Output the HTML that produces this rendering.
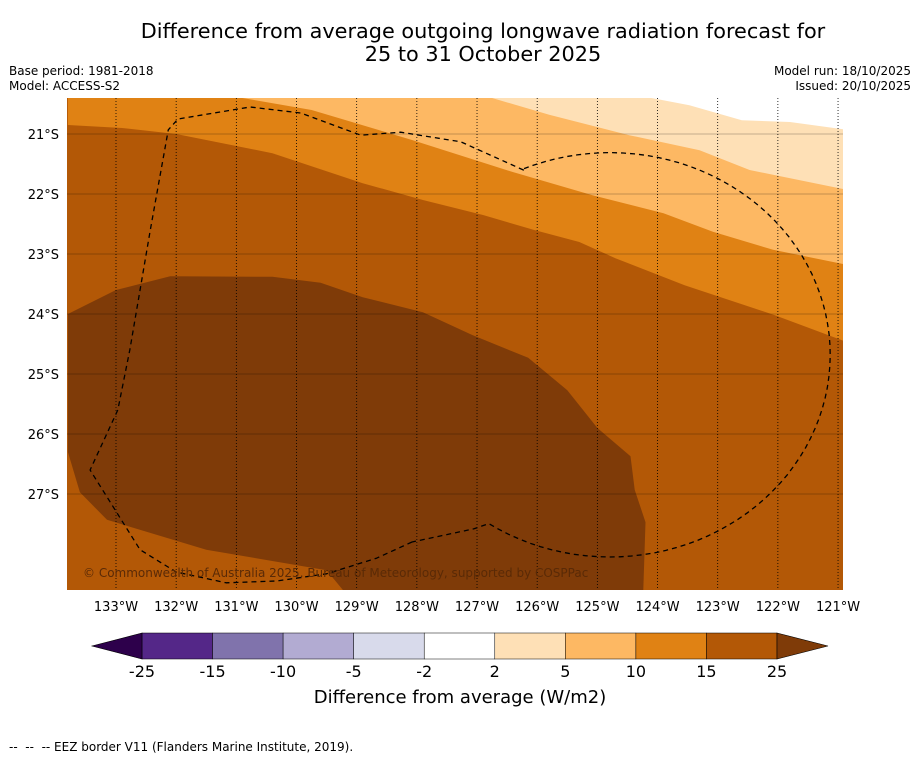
<!DOCTYPE html>
<html><head><meta charset="utf-8"><style>
body{margin:0;background:#fff;font-family:"Liberation Sans","DejaVu Sans",sans-serif;}
svg text{font-family:"DejaVu Sans","Liberation Sans",sans-serif;}
</style></head><body>
<svg id="c" width="919" height="758" viewBox="0 0 919 758" xmlns="http://www.w3.org/2000/svg">
<text x="483" y="38" font-size="20.8" text-anchor="middle">Difference from average outgoing longwave radiation forecast for</text>
<text x="483" y="61" font-size="20.8" text-anchor="middle">25 to 31 October 2025</text>
<text x="9" y="75" font-size="12">Base period: 1981-2018</text>
<text x="9" y="90" font-size="12">Model: ACCESS-S2</text>
<text x="911" y="75" font-size="12" text-anchor="end">Model run: 18/10/2025</text>
<text x="911" y="90" font-size="12" text-anchor="end">Issued: 20/10/2025</text>
<defs><clipPath id="mc"><rect x="67" y="98" width="776" height="492"/></clipPath></defs>
<g id="map" clip-path="url(#mc)"></g>
<g id="axes"></g>
<g id="cb"></g>
<text x="9" y="751" font-size="12" xml:space="preserve">--  --  -- EEZ border V11 (Flanders Marine Institute, 2019).</text>
</svg>
<script>
const NS="http://www.w3.org/2000/svg";
// axis data
const lonTicks=[133,132,131,130,129,128,127,126,125,124,123,122,121];
const latTicks=[21,22,23,24,25,26,27];
const cbBounds=[-25,-15,-10,-5,-2,2,5,10,15,25];
const cbColors=["#542788","#8073ac","#b2abd2","#d8daeb","#ffffff","#fee0b6","#fdb863","#e08214","#b35806"];
const cbLow="#2d004b", cbHigh="#7f3b08";
// contour polygons (lon °W, lat °S)
const bgColor="#b35806";
const band10=[[133.8,20.4],[133.8,20.85],[132.9,20.9],[132,21],[130.4,21.32],[128.9,21.82],[127.9,22.1],[126.9,22.35],[126.05,22.6],[125.3,22.8],[124.7,23.07],[123.55,23.52],[122.05,24.02],[120.85,24.47],[120.85,20.4]];
const band5=[[130.9,20.4],[129.75,20.6],[129.08,20.8],[128.08,21.1],[126.42,21.63],[125.08,22.02],[123.9,22.32],[123.08,22.63],[122.08,22.93],[120.85,23.18],[120.85,20.4]];
const band2=[[126.75,20.4],[125.8,20.68],[124.47,21.02],[123.3,21.27],[122.47,21.6],[120.85,21.93],[120.85,20.4]];
const bandW=[[124.1,20.4],[123.47,20.52],[122.6,20.77],[121.8,20.8],[120.85,20.93],[120.85,20.4]];
const dark=[[133.8,24.0],[133,23.6],[132.1,23.37],[130.4,23.38],[129.6,23.48],[128.9,23.72],[127.9,23.97],[127.08,24.35],[126.15,24.73],[125.5,25.27],[125.0,25.9],[124.45,26.37],[124.38,26.93],[124.2,27.47],[124.25,29],[128.9,29],[129.5,28.27],[131.5,27.93],[133.15,27.43],[133.6,26.97],[133.8,26.3]];
// EEZ dashed border: western polyline + eastern elliptical arc
const eezWest=[[128.08,27.8],[128.67,28.07],[129.5,28.33],[130.33,28.45],[131.17,28.48],[132.0,28.3],[132.6,27.93],[133.43,26.6],[132.97,25.6],[132.77,24.6],[132.43,22.6],[132.13,20.93],[131.97,20.75],[130.77,20.55],[129.93,20.65],[128.93,21.02],[128.27,20.97],[127.27,21.13],[126.23,21.6]];
const eezJoin=[[127.05,27.58],[128.08,27.8]];
const arcCenter=[124.79,24.68], arcRadii=[3.66,3.37], arcAngles=[-113.6,123.7];
const x=lon=>116+(133-lon)*60.17;
const y=lat=>134+(lat-21)*60;
const map=document.getElementById('map'),axes=document.getElementById('axes'),cb=document.getElementById('cb');
function mk(tag,attrs,parent){const e=document.createElementNS(NS,tag);for(const k in attrs)e.setAttribute(k,attrs[k]);parent.appendChild(e);return e;}
const pts=a=>a.map(p=>x(p[0]).toFixed(1)+","+y(p[1]).toFixed(1)).join(" ");
let r=mk('rect',{x:67,y:98,width:776,height:492,fill:bgColor},map);


[[band10,"#e08214","anomaly-10-15-region"],[band5,"#fdb863","anomaly-5-10-region"],[band2,"#fee0b6","anomaly-2-5-region"],[bandW,"#ffffff","anomaly-near-zero-region"],[dark,"#7f3b08","anomaly-above-25-region"]].forEach(b=>{
 const p=mk('polygon',{points:pts(b[0]),fill:b[1]},map);
 
 
});
lonTicks.forEach(l=>{
 const g=mk('line',{x1:x(l),x2:x(l),y1:98,y2:590,stroke:"#000","stroke-width":0.8,"stroke-dasharray":"1,2"},map);
 
 
 const t=mk('text',{x:x(l),y:611,"font-size":13,"text-anchor":"middle"},axes);t.textContent=l+"°W";
 
 
});
latTicks.forEach(l=>{
 const g=mk('line',{x1:67,x2:843,y1:y(l),y2:y(l),stroke:"#000","stroke-width":0.6,opacity:0.45},map);
 
 
 const t=mk('text',{x:59,y:y(l)+5,"font-size":13,"text-anchor":"end"},axes);t.textContent=l+"°S";
 
 
});
// build EEZ path
let eezPts=eezWest.slice();
for(let a=arcAngles[0];a<=arcAngles[1];a+=3){
 const t=a*Math.PI/180;
 eezPts.push([arcCenter[0]-arcRadii[0]*Math.cos(t),arcCenter[1]+arcRadii[1]*Math.sin(t)]);
}
eezPts=eezPts.concat(eezJoin);
const e=mk('polyline',{points:pts(eezPts),fill:"none",stroke:"#000","stroke-width":1.3,"stroke-dasharray":"5,4","stroke-linejoin":"round"},map);


const ct=mk('text',{x:83,y:577,"font-size":12,fill:"#5a2a06"},map);ct.textContent="© Commonwealth of Australia 2025, Bureau of Meteorology, supported by COSPPac";


// colorbar
const cx0=142,cx1=777,cy0=633,cy1=659,n=cbColors.length,w=(cx1-cx0)/n;
cbColors.forEach((c,i)=>{
 const s=mk('rect',{x:cx0+i*w,y:cy0,width:w,height:cy1-cy0,fill:c,stroke:"#000","stroke-width":0.5},cb);
 
 
});
const lt=mk('polygon',{points:`${cx0},${cy0} 92,646 ${cx0},${cy1}`,fill:cbLow,stroke:"#000","stroke-width":0.6},cb);


const ht=mk('polygon',{points:`${cx1},${cy0} 828,646 ${cx1},${cy1}`,fill:cbHigh,stroke:"#000","stroke-width":0.6},cb);


cbBounds.forEach((b,i)=>{
 const t=mk('text',{x:cx0+i*w,y:677,"font-size":16,"text-anchor":"middle"},cb);t.textContent=b;
 
 
});
const ttl=mk('text',{x:460,y:703,"font-size":18,"text-anchor":"middle"},cb);ttl.textContent="Difference from average (W/m2)";


</script>
</body></html>
